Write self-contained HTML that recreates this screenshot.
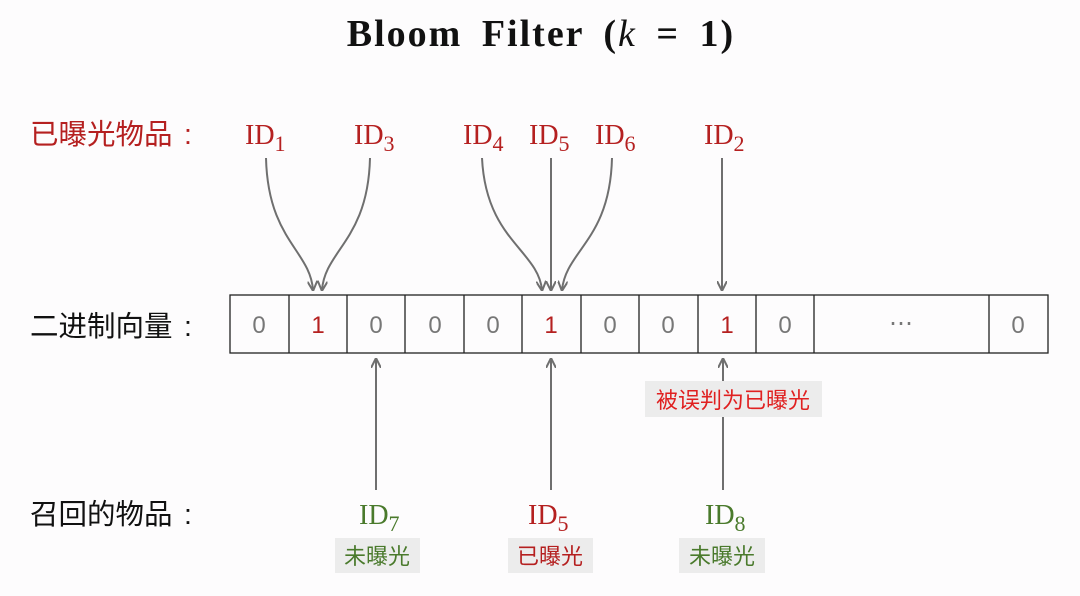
<!DOCTYPE html>
<html><head><meta charset="utf-8"><style>
html,body{margin:0;padding:0;background:#fdfcfd;}
svg{display:block}
</style></head><body>
<svg width="1080" height="596" viewBox="0 0 1080 596" xmlns="http://www.w3.org/2000/svg">
<defs>
<marker id="ah" viewBox="0 0 10 10" refX="9" refY="5" markerWidth="5" markerHeight="5" orient="auto-start-reverse">
<path d="M0,0 L10,5 L0,10" fill="none" stroke="#6f6f6f" stroke-width="2"/>
</marker>
</defs>
<rect width="1080" height="596" fill="#fdfcfd"/>
<text x="541" y="46" text-anchor="middle" font-family="Liberation Serif, serif" font-weight="bold" font-size="38" letter-spacing="2" word-spacing="8" fill="#111">Bloom Filter (<tspan font-style="italic" font-weight="normal">k</tspan> = 1)</text>

<g font-family="Liberation Sans, 'Noto Sans CJK SC', sans-serif" font-size="28.5">
<text x="30" y="144" fill="#b52020">已曝光物品</text>
<text x="184" y="144" fill="#b52020">:</text>
<text x="30" y="336" fill="#111">二进制向量</text>
<text x="184" y="336" fill="#111">:</text>
<text x="30" y="524" fill="#111">召回的物品</text>
<text x="184" y="524" fill="#111">:</text>
</g>

<g font-family="Liberation Serif, serif" font-size="28" fill="#b52020">
<text x="245" y="144">ID<tspan font-size="22" dy="7">1</tspan></text>
<text x="354" y="144">ID<tspan font-size="22" dy="7">3</tspan></text>
<text x="463" y="144">ID<tspan font-size="22" dy="7">4</tspan></text>
<text x="529" y="144">ID<tspan font-size="22" dy="7">5</tspan></text>
<text x="595" y="144">ID<tspan font-size="22" dy="7">6</tspan></text>
<text x="704" y="144">ID<tspan font-size="22" dy="7">2</tspan></text>
<text x="528" y="524">ID<tspan font-size="22" dy="7">5</tspan></text>
</g>
<g font-family="Liberation Serif, serif" font-size="28" fill="#4a7a2c">
<text x="359" y="524">ID<tspan font-size="22" dy="7">7</tspan></text>
<text x="705" y="524">ID<tspan font-size="22" dy="7">8</tspan></text>
</g>

<g fill="none" stroke="#6f6f6f" stroke-width="2" marker-end="url(#ah)">
<path d="M266,158 C268,240 310,250 313,290"/>
<path d="M370,158 C368,240 325,250 322,290"/>
<path d="M482,158 C486,240 538,250 542,290"/>
<path d="M551,158 L551,290"/>
<path d="M612,158 C610,240 566,250 562,290"/>
<path d="M722,158 L722,290"/>
<path d="M376,490 L376,359"/>
<path d="M551,490 L551,359"/>
<path d="M723,490 L723,359"/>
</g>

<rect x="645" y="381" width="177" height="36" fill="#ececec"/>
<text x="733" y="408" text-anchor="middle" font-family="Liberation Sans, 'Noto Sans CJK SC', sans-serif" font-size="22" fill="#e02020">被误判为已曝光</text>

<rect x="335" y="538" width="85" height="35" fill="#ececec"/>
<rect x="508" y="538" width="85" height="35" fill="#ececec"/>
<rect x="679" y="538" width="86" height="35" fill="#ececec"/>
<g font-family="Liberation Sans, 'Noto Sans CJK SC', sans-serif" font-size="22" text-anchor="middle">
<text x="377" y="564" fill="#4a7a2c">未曝光</text>
<text x="550" y="564" fill="#b52020">已曝光</text>
<text x="722" y="564" fill="#4a7a2c">未曝光</text>
</g>

<g fill="none" stroke="#222" stroke-width="1.3">
<rect x="230" y="295" width="818" height="58"/>
<line x1="289" y1="295" x2="289" y2="353"/>
<line x1="347" y1="295" x2="347" y2="353"/>
<line x1="405" y1="295" x2="405" y2="353"/>
<line x1="464" y1="295" x2="464" y2="353"/>
<line x1="522" y1="295" x2="522" y2="353"/>
<line x1="581" y1="295" x2="581" y2="353"/>
<line x1="639" y1="295" x2="639" y2="353"/>
<line x1="698" y1="295" x2="698" y2="353"/>
<line x1="756" y1="295" x2="756" y2="353"/>
<line x1="814" y1="295" x2="814" y2="353"/>
<line x1="989" y1="295" x2="989" y2="353"/>
</g>
<g font-family="Liberation Sans, sans-serif" font-size="24" text-anchor="middle" fill="#777">
<text x="259" y="333">0</text>
<text x="318" y="333" fill="#b52020">1</text>
<text x="376" y="333">0</text>
<text x="435" y="333">0</text>
<text x="493" y="333">0</text>
<text x="551" y="333" fill="#b52020">1</text>
<text x="610" y="333">0</text>
<text x="668" y="333">0</text>
<text x="727" y="333" fill="#b52020">1</text>
<text x="785" y="333">0</text>
<text x="901" y="331">⋯</text>
<text x="1018" y="333">0</text>
</g>
</svg>
</body></html>
